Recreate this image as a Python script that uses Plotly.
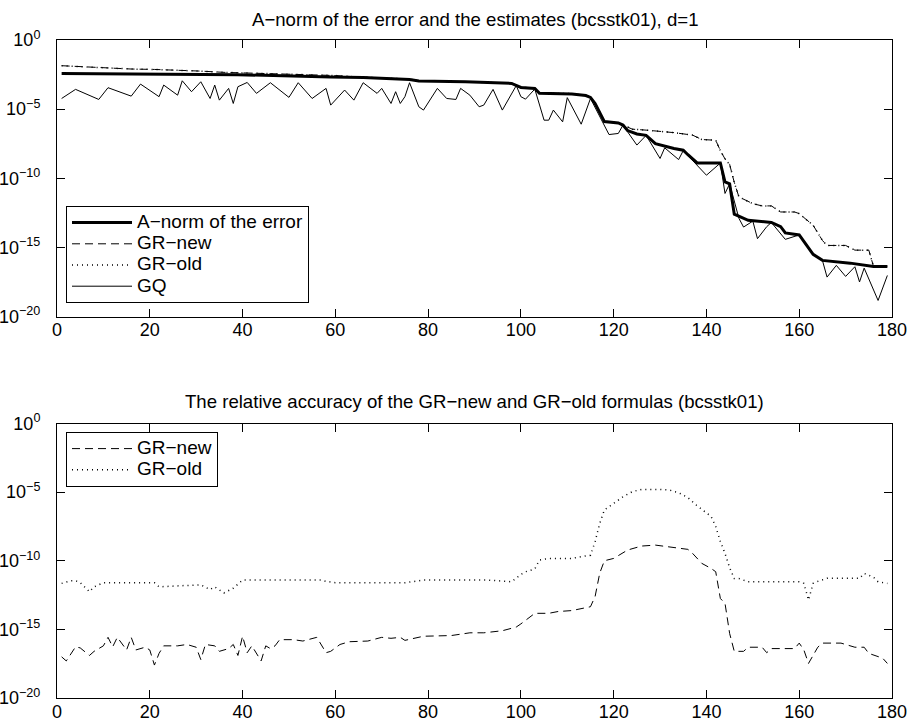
import plotly.graph_objects as go

# ---------------- data (log10 of the values) ----------------
# Top panel: A-norm of the error and its estimates
anorm_x = [1, 18, 39, 59, 66, 76, 78, 88, 98, 100, 103, 104, 111, 114, 115, 116, 117, 118, 121, 122, 123,
           125, 127, 129, 133, 135, 136, 138, 143, 144, 145, 146, 149, 154, 156, 157, 160, 162, 163, 165,
           171, 176, 179]
anorm_log10 = [-2.42, -2.46, -2.51, -2.68, -2.72, -2.85, -2.97, -3.02, -3.14, -3.43, -3.50, -3.86, -3.90,
               -4.02, -4.15, -4.60, -5.30, -5.90, -6.00, -6.15, -6.55, -6.80, -6.90, -7.50, -7.85, -7.97,
               -8.30, -8.89, -8.89, -10.27, -10.40, -12.60, -13.04, -13.20, -13.50, -13.95, -14.10, -15.00,
               -15.50, -15.94, -16.14, -16.38, -16.38]

gr_top_x = [1, 6, 11, 16, 21, 26, 31, 36, 41, 45, 50, 55, 60, 64, 76, 78, 98, 100, 103, 104, 111, 114,
            115, 116, 117, 118, 121, 122, 124, 127, 133, 137, 139, 142, 143, 144, 145, 146, 147, 150, 152,
            154, 156, 159, 160, 163, 165, 166, 170, 172, 175, 176, 179]
gr_new_top_log10 = [-1.86, -1.93, -2.05, -2.10, -2.13, -2.17, -2.25, -2.34, -2.39, -2.42, -2.46, -2.48,
                    -2.57, -2.66, -2.83, -2.95, -3.12, -3.41, -3.48, -3.84, -3.88, -4.02, -4.13, -4.58,
                    -5.28, -5.88, -5.98, -6.12, -6.45, -6.52, -6.70, -6.88, -7.20, -7.25, -8.00, -8.60,
                    -9.00, -10.30, -11.35, -11.84, -12.00, -12.00, -12.44, -12.44, -12.56, -13.40, -14.50,
                    -14.86, -14.86, -15.20, -15.20, -16.36, -16.36]
gr_old_top_log10 = list(gr_new_top_log10)  # indistinguishable from GR-new at this scale

gq_x = [1, 4, 9, 11, 16, 18, 22, 23, 26, 27, 29, 31, 33, 34, 35, 37, 38, 39, 41, 43, 46, 50, 52, 55, 58,
        59, 62, 64, 66, 69, 70, 72, 73, 74, 75, 76, 78, 79, 82, 84, 86, 87, 89, 91, 92, 94, 96, 99, 100,
        101, 103, 105, 106, 107, 109, 110, 113, 115, 119, 121, 122, 125, 127, 130, 131, 134, 135, 140,
        143, 144, 145, 147, 148, 150, 151, 153, 154, 157, 160, 162, 163, 165, 166, 168, 170, 172, 173,
        174, 177, 179]
gq_log10 = [-4.23, -3.57, -4.30, -3.45, -4.06, -3.19, -4.10, -3.26, -3.99, -2.95, -3.74, -3.02, -4.23,
            -3.26, -4.35, -3.50, -4.59, -3.38, -3.07, -3.86, -3.09, -4.15, -3.09, -4.23, -3.50, -4.71,
            -3.62, -4.35, -3.09, -3.86, -3.50, -4.59, -3.74, -4.59, -4.10, -3.09, -4.83, -5.07, -3.50,
            -4.23, -4.30, -3.50, -3.99, -4.83, -4.71, -3.57, -5.07, -3.30, -4.10, -4.28, -3.55, -5.80,
            -5.80, -5.07, -5.92, -4.17, -6.09, -4.23, -6.84, -6.76, -6.16, -7.60, -6.90, -8.57, -7.80,
            -8.65, -8.00, -9.78, -8.90, -11.10, -10.40, -12.90, -13.53, -13.10, -14.37, -13.50, -13.20,
            -14.42, -14.10, -15.00, -15.50, -15.94, -17.15, -16.30, -17.10, -16.40, -17.50, -16.50,
            -18.84, -17.03]

# Bottom panel: relative accuracy
acc_new_x = [1, 2, 4, 5, 7, 8, 10, 11, 12, 13, 15, 16, 17, 19, 20, 21, 22, 23, 26, 28, 30, 31, 32, 34,
             35, 37, 38, 39, 40, 41, 42, 44, 45, 46, 47, 48, 51, 53, 56, 58, 59, 61, 63, 65, 67, 70, 72,
             74, 75, 79, 82, 85, 89, 92, 96, 99, 100, 103, 106, 108, 111, 113, 115, 116, 117, 118, 120,
             123, 126, 129, 132, 136, 137, 139, 141, 142, 143, 144, 145, 146, 148, 149, 152, 153, 154,
             159, 160, 161, 162, 164, 165, 169, 172, 174, 175, 178, 179]
acc_new_log10 = [-17.0, -17.3, -16.27, -16.35, -16.9, -16.6, -16.2, -15.58, -16.27, -15.58, -16.5, -15.58,
                 -16.5, -16.3, -16.5, -17.6, -16.75, -16.2, -16.2, -16.1, -16.3, -17.2, -16.1, -16.2,
                 -16.6, -16.4, -16.1, -16.9, -15.5, -16.7, -16.2, -17.3, -16.2, -16.4, -16.2, -15.75,
                 -15.75, -15.85, -15.58, -16.7, -16.6, -16.1, -15.9, -15.9, -15.85, -15.58, -15.65, -15.58,
                 -15.8, -15.5, -15.45, -15.45, -15.25, -15.25, -15.1, -14.83, -14.6, -13.83, -13.83, -13.7,
                 -13.63, -13.5, -13.35, -12.6, -10.9, -10.0, -9.83, -9.22, -8.93, -8.86, -8.98, -9.17,
                 -9.46, -10.19, -10.56, -10.8, -12.75, -13.1, -15.3, -16.6, -16.6, -16.3, -16.3, -16.7,
                 -16.4, -16.4, -16.0, -16.5, -17.48, -16.3, -16.0, -16.0, -16.3, -16.3, -16.75, -17.1,
                 -17.48]

acc_old_x = [1, 3, 4, 5, 7, 8, 10, 21, 22, 31, 33, 34, 36, 38, 40, 57, 58, 60, 75, 77, 79, 93, 98, 100,
             101, 103, 104, 106, 111, 113, 115, 116, 117, 118, 120, 122, 124, 126, 130, 132, 134, 136,
             138, 141, 142, 143, 144, 145, 146, 147, 149, 160, 161, 162, 163, 164, 166, 173, 174, 176,
             177, 179]
acc_old_log10 = [-11.65, -11.45, -11.45, -11.60, -12.26, -11.90, -11.60, -11.60, -11.90, -11.75, -12.10,
                 -11.90, -12.34, -12.00, -11.41, -11.41, -11.50, -11.60, -11.60, -11.50, -11.41, -11.41,
                 -11.53, -11.00, -10.80, -10.60, -9.95, -9.83, -9.83, -9.70, -9.60, -8.61, -7.28, -6.30,
                 -5.82, -5.34, -4.97, -4.80, -4.80, -4.85, -5.04, -5.40, -6.00, -6.77, -7.50, -8.60,
                 -9.46, -10.50, -11.30, -11.30, -11.53, -11.53, -11.65, -12.86, -11.65, -11.50, -11.28,
                 -11.28, -10.92, -11.20, -11.53, -11.65]

x_ticks = [0, 20, 40, 60, 80, 100, 120, 140, 160, 180]
y_tick_exponents = [-20, -15, -10, -5, 0]

titles = ["A\u2212norm of the error and the estimates (bcsstk01), d=1",
          "The relative accuracy of the GR\u2212new and GR\u2212old formulas (bcsstk01)"]

for a, b in [(anorm_x, anorm_log10), (gr_top_x, gr_new_top_log10), (gq_x, gq_log10),
             (acc_new_x, acc_new_log10), (acc_old_x, acc_old_log10)]:
    assert len(a) == len(b), (len(a), len(b))


def pw(vals):
    return [10.0 ** v for v in vals]


def leg(name):
    # larger glyphs than the legend's row pitch, as in the reference
    return '<span style="font-size:19px">%s</span>' % name


FONT = "Liberation Sans, Arial, Helvetica, sans-serif"
fig = go.Figure()

# top panel
fig.add_trace(go.Scatter(x=anorm_x, y=pw(anorm_log10), mode="lines", name=leg("A\u2212norm of the error"),
                         line=dict(color="black", width=3), xaxis="x", yaxis="y", legend="legend"))
fig.add_trace(go.Scatter(x=gr_top_x, y=pw(gr_new_top_log10), mode="lines", name=leg("GR\u2212new"),
                         line=dict(color="black", width=1, dash="8px,5px"), xaxis="x", yaxis="y",
                         legend="legend"))
fig.add_trace(go.Scatter(x=gr_top_x, y=pw(gr_old_top_log10), mode="lines", name=leg("GR\u2212old"),
                         line=dict(color="black", width=1.5, dash="1px,4px"), xaxis="x", yaxis="y",
                         legend="legend"))
fig.add_trace(go.Scatter(x=gq_x, y=pw(gq_log10), mode="lines", name=leg("GQ"),
                         line=dict(color="black", width=1), xaxis="x", yaxis="y", legend="legend"))

# bottom panel
fig.add_trace(go.Scatter(x=acc_new_x, y=pw(acc_new_log10), mode="lines", name=leg("GR\u2212new"),
                         line=dict(color="black", width=1, dash="8px,5px"), xaxis="x2", yaxis="y2",
                         legend="legend2"))
fig.add_trace(go.Scatter(x=acc_old_x, y=pw(acc_old_log10), mode="lines", name=leg("GR\u2212old"),
                         line=dict(color="black", width=1.5, dash="1px,4px"), xaxis="x2", yaxis="y2",
                         legend="legend2"))

ML, MR, MT, MB = 57, 17, 40, 24
W, H = 909, 722
plot_h = H - MT - MB


def ydom(top_px, bot_px):
    return [1 - (bot_px - MT) / plot_h, 1 - (top_px - MT) / plot_h]


top_dom = ydom(40, 316.5)
bot_dom = ydom(423.5, 698)

xax = dict(range=[0, 180], tickvals=x_ticks, ticktext=[str(t) for t in x_ticks], ticks="inside",
           ticklen=8, tickcolor="black", showline=True, linecolor="black", linewidth=1, mirror="ticks",
           showgrid=False, zeroline=False, tickfont=dict(family=FONT, size=18, color="black"),
           ticklabelstandoff=-3, automargin=False)
yax = dict(type="log", range=[-20, 0], tickvals=[10.0 ** e for e in y_tick_exponents],
           ticktext=["10<sup>%s</sup>" % (str(e).replace("-", "\u2212")) for e in y_tick_exponents],
           ticks="inside", ticklen=8, tickcolor="black", showline=True, linecolor="black", linewidth=1,
           mirror="ticks", showgrid=False, zeroline=False,
           tickfont=dict(family=FONT, size=18, color="black"), ticklabelstandoff=12, automargin=False)

LEG_FONT = dict(family=FONT, size=14, color="black")
fig.update_layout(
    width=W, height=H, margin=dict(l=ML, r=MR, t=MT, b=MB),
    paper_bgcolor="white", plot_bgcolor="white",
    font=dict(family=FONT, size=18, color="black"),
    xaxis=dict(xax, domain=[0, 1], anchor="y"),
    yaxis=dict(yax, domain=top_dom, anchor="x"),
    xaxis2=dict(xax, domain=[0, 1], anchor="y2"),
    yaxis2=dict(yax, domain=bot_dom, anchor="x2"),
    legend=dict(x=(66 - ML) / (W - ML - MR), y=1 - (206 - MT) / plot_h, xanchor="left", yanchor="top",
                bgcolor="white", bordercolor="black", borderwidth=1, itemwidth=60,
                font=LEG_FONT, tracegroupgap=0, traceorder="normal"),
    legend2=dict(x=(66 - ML) / (W - ML - MR), y=1 - (432 - MT) / plot_h, xanchor="left",
                 yanchor="top", bgcolor="white", bordercolor="black", borderwidth=1, itemwidth=60,
                 font=LEG_FONT, tracegroupgap=0, traceorder="normal"),
    showlegend=True,
    annotations=[
        dict(text=titles[0], xref="paper", yref="paper", x=0.5, y=top_dom[1], xanchor="center",
             yanchor="bottom", yshift=8, showarrow=False, font=dict(family=FONT, size=18.6, color="black")),
        dict(text=titles[1], xref="paper", yref="paper", x=0.5, y=bot_dom[1], xanchor="center",
             yanchor="bottom", yshift=9, showarrow=False, font=dict(family=FONT, size=18.6, color="black")),
    ],
)

fig.write_html("out.html", config={"displayModeBar": False},
               post_script="document.body.style.margin='0px';document.body.style.padding='0px';")
